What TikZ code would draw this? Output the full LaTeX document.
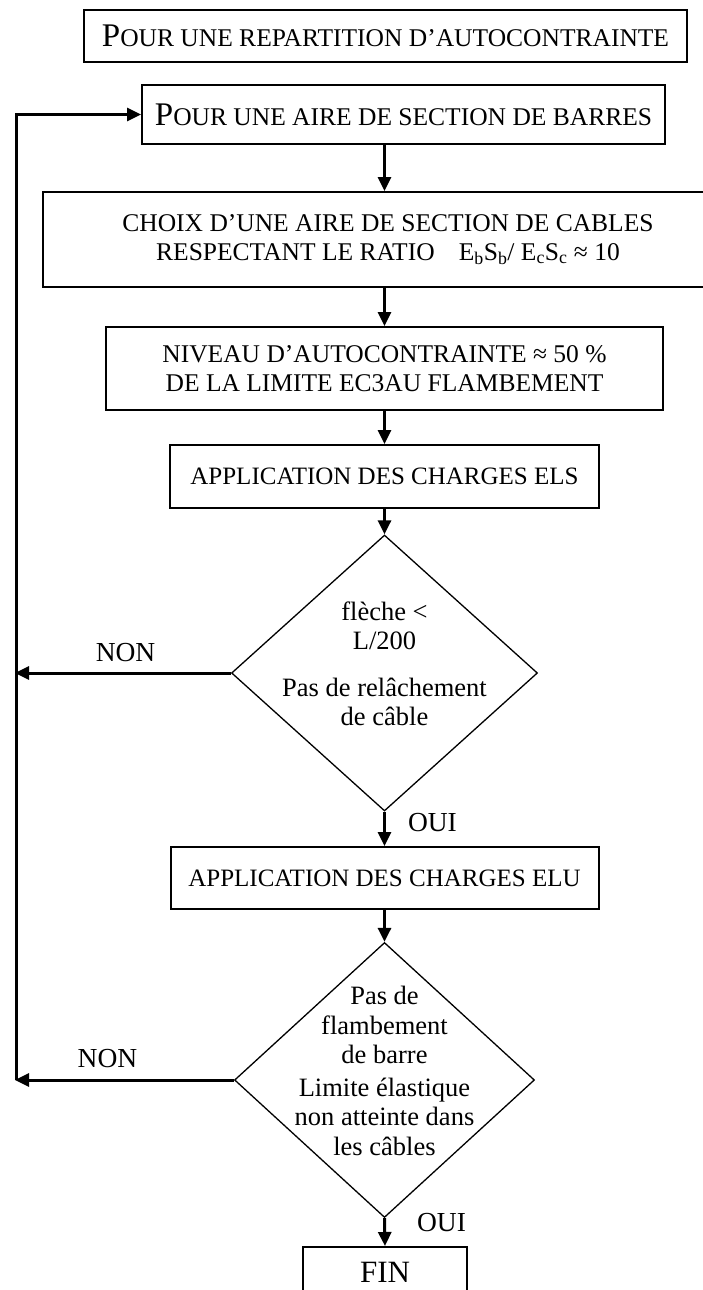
\documentclass[tikz,border=0pt]{standalone}
\usepackage{fontspec}
\setmainfont{Liberation Serif}
\usepackage{tikz}
\usetikzlibrary{arrows.meta, positioning, shapes.geometric}

\tikzset{
  box/.style={draw, line width=2pt, inner sep=0pt, align=center, font=\fontsize{25}{28}\selectfont},
  decision/.style={diamond, draw, line width=1.3pt, inner sep=0pt},
  flow/.style={line width=3pt, -{Triangle[length=14pt,width=13pt]}},
  answer/.style={inner sep=0pt, font=\fontsize{27.5}{28}\selectfont},
  inside/.style={align=center, yshift=9pt, font=\fontsize{26.5}{29.5}\selectfont},
}

\begin{document}
\begin{tikzpicture}[x=1pt, y=-1pt]

\useasboundingbox (0,0) rectangle (703,1290);
\clip (0,0) rectangle (703,1290);

\coordinate (axis) at (384.5,0);
\coordinate (back) at (16,0);

\node[box, minimum width=603pt, minimum height=52pt, font=\fontsize{25.5}{28}\selectfont] (start) at (385.5,36) {{\fontsize{33}{33}\selectfont P}OUR UNE REPARTITION D’AUTOCONTRAINTE};
\node[box, minimum width=523pt, minimum height=59pt, font=\fontsize{25.5}{28}\selectfont] (bars) at (403.5,114.5) {{\fontsize{33}{33}\selectfont P}OUR UNE AIRE DE SECTION DE BARRES};
\node[box, minimum width=690pt, minimum height=95pt, font=\fontsize{25.5}{28.5}\selectfont] (cables) at (388,239.5) {CHOIX D’UNE AIRE DE SECTION DE CABLES\\RESPECTANT LE RATIO\hspace{0.7em} E\textsubscript{b}S\textsubscript{b}/ E\textsubscript{c}S\textsubscript{c} ≈ 10};
\node[box, minimum width=557pt, minimum height=83pt, font=\fontsize{25.5}{28.5}\selectfont] (niveau) at (384.5,368.5) {NIVEAU D’AUTOCONTRAINTE ≈ 50 \%\\DE LA LIMITE EC3AU FLAMBEMENT};
\node[box, minimum width=429pt, minimum height=63pt] (els) at (384.5,476.5) {APPLICATION DES CHARGES ELS};
\node[decision, minimum width=306pt, minimum height=276pt,
  label={[inside]center:{flèche <\\L/200\\[17pt]Pas de relâchement\\de câble}}] (d1) at (384.5,673) {};
\node[box, minimum width=428pt, minimum height=62pt] (elu) at (384.5,878) {APPLICATION DES CHARGES ELU};
\node[decision, minimum width=300pt, minimum height=275pt,
  label={[inside]center:{Pas de\\flambement\\de barre\\[3pt]Limite élastique\\non atteinte dans\\les câbles}}] (d2) at (384.5,1080) {};
\node[box, minimum width=164pt, minimum height=50pt, font=\fontsize{31}{31}\selectfont] (fin) at (385,1272) {FIN};

\draw[flow] (bars.south -| axis) -- (cables.north -| axis);
\draw[flow] (cables.south -| axis) -- (niveau.north -| axis);
\draw[flow] (niveau.south -| axis) -- (els.north -| axis);
\draw[flow] (els.south -| axis) -- (d1.north);
\draw[flow] (d1.south) -- (elu.north) node[answer, pos=0.33, right=22pt] {OUI};
\draw[flow] (elu.south -| axis) -- (d2.north);
\draw[flow] (d2.south) -- (fin.north) node[answer, pos=0.17, right=31pt] {OUI};

\draw[flow, shorten >=-1pt] (d1.west) -- (d1.west -| back) node[answer, pos=0.49, above=10pt] {NON};
\draw[flow, shorten >=-1pt] (d2.west) -- (d2.west -| back) node[answer, pos=0.58, above=11pt] {NON};
\draw[flow] (d2.west -| back) -- (back |- bars.west) -- (bars.west);

\end{tikzpicture}
\end{document}
